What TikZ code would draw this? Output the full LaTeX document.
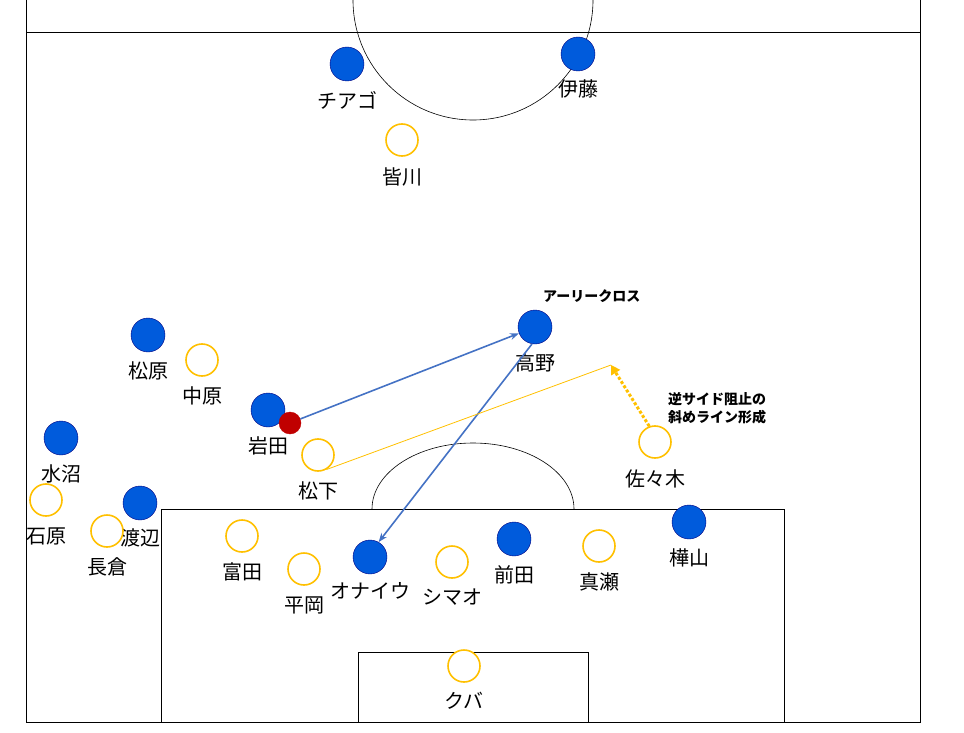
\documentclass[tikz,border=0pt]{standalone}
\usepackage{fontspec}
\setmainfont{Noto Sans CJK JP}
\usetikzlibrary{arrows.meta}
\definecolor{pblue}{RGB}{0,91,220}
\definecolor{pyel}{RGB}{255,192,0}
\definecolor{pred}{RGB}{192,0,0}
\definecolor{parrow}{RGB}{68,114,196}
\begin{document}
\begin{tikzpicture}[x=1pt,y=-1pt,
 bp/.style={circle,draw=blue!50!black,fill=pblue,minimum size=34pt,inner sep=0pt},
 yp/.style={circle,draw=pyel,line width=1.6pt,fill=white,minimum size=32pt,inner sep=0pt},
 lab/.style={font=\fontsize{20}{20}\selectfont,inner sep=0pt},
 note/.style={font=\bfseries\fontsize{14}{18}\selectfont,align=left,inner sep=0pt},
 pass/.style={draw=parrow,line width=1.6pt,-{Stealth[length=9pt]}}]
\useasboundingbox (0,0) rectangle (964,733);
\draw[line width=0.6pt] (26,0)--(26,722)--(920,722)--(920,0);
\draw[line width=0.6pt] (26,32)--(920,32);
\draw[line width=0.6pt] (353,0) arc[start angle=180,end angle=0,radius=120];
\draw[line width=0.6pt] (161,722)--(161,509)--(784,509)--(784,722);
\draw[line width=0.6pt] (358,722)--(358,652)--(588,652)--(588,722);
\draw[line width=0.6pt] (372,509) arc[start angle=180,end angle=360,x radius=101,y radius=66];
\foreach \n/\x/\y/\t/\ly in {c/347/64/チアゴ/100, it/578/54/伊藤/89, ta/535/327/高野/363, ma/148/335/松原/371, iw/268/410/岩田/446, mi/61/438/水沼/474, wa/140/503/渡辺/538, on/370/557/オナイウ/591, mae/514/539/前田/575, ka/689/522/樺山/558}{
 \node[bp] (\n) at (\x,\y) {};
 \node[lab] (\n l) at (\x,\ly) {\t};}
\foreach \n/\x/\y/\t/\ly in {mn/402/140/皆川/177, nk/202/360/中原/396, mt/318/455/松下/491, ss/655/442/佐々木/479, is/46/500/石原/536, ng/107/531/長倉/567, to/242/536/富田/572, hi/304/569/平岡/605, sh/452/562/シマオ/597, mas/599/546/真瀬/582, ku/464/666/クバ/701}{
 \node[yp] (\n) at (\x,\y) {};
 \node[lab] (\n l) at (\x,\ly) {\t};}
\node[circle,fill=pred,draw=pred,minimum size=22pt,inner sep=0pt] (ball) at (290,423) {};
\coordinate (tgt) at (611,365);
\draw[pass] (ball) -- (ta);
\draw[pass] (ta.260) -- (on.60);
\draw[pyel,line width=0.8pt] (mt.300) -- (tgt);
\draw[pyel,line width=3pt,dotted,-{Triangle[length=9pt,width=10pt]}] (ss.110) -- (tgt);
\node[note,anchor=west] (n1) at (543,296) {アーリークロス};
\node[note,anchor=west] (n2) at (668,408) {逆サイド阻止の\\斜めライン形成};
\end{tikzpicture}
\end{document}
